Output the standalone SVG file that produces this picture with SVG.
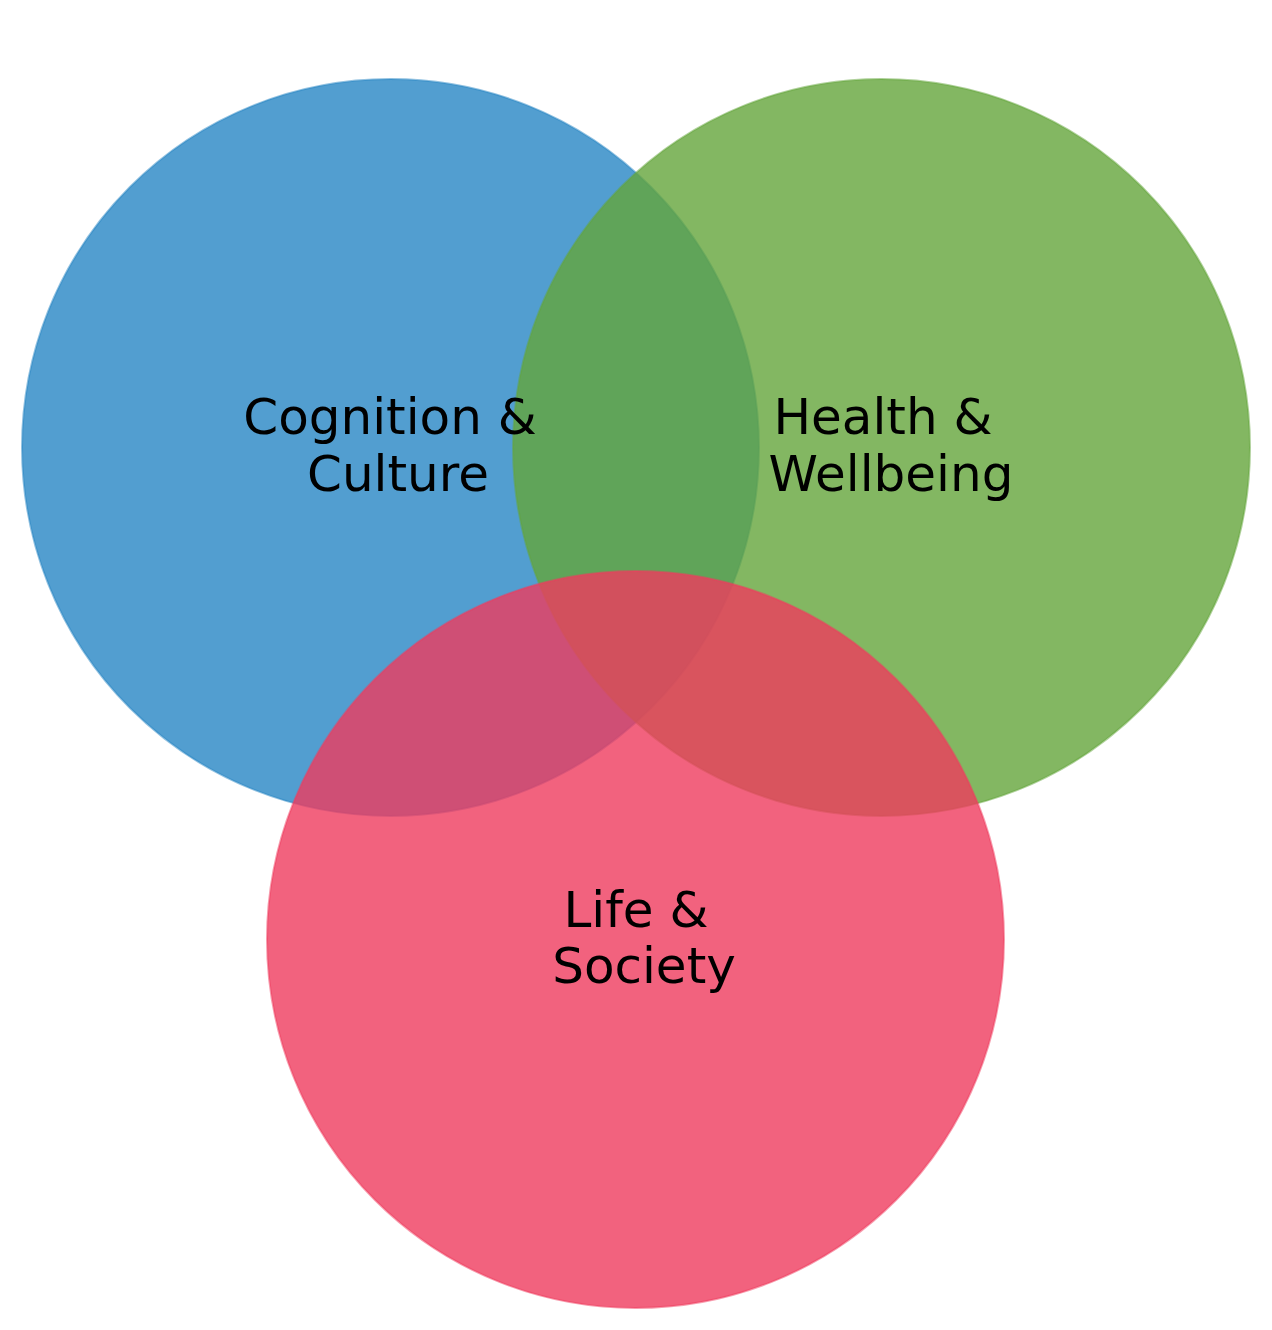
<svg xmlns="http://www.w3.org/2000/svg" width="1272" height="1330" viewBox="0 0 1272 1330">
<style>
.set{fill-opacity:0.8;stroke-opacity:0.5;stroke-width:2}
.lbl{font-family:"DejaVu Sans","Liberation Sans",sans-serif;font-size:50px;fill:#000;text-anchor:middle}
</style>
<rect width="1272" height="1330" fill="#ffffff"/>
<g id="cognition-culture">
<circle class="set" cx="390.5" cy="447.5" r="368.5" fill="#2786c4" stroke="#2786c4"/>
</g>
<g id="health-wellbeing">
<circle class="set" cx="881.5" cy="447.5" r="368.5" fill="#64a53b" stroke="#64a53b"/>
</g>
<g id="life-society">
<circle class="set" cx="635.5" cy="939.5" r="368.5" fill="#ef3b5e" stroke="#ef3b5e"/>
</g>
<g id="labels">
<text class="lbl" x="390" y="434">Cognition &amp;</text>
<text class="lbl" x="398" y="491">Culture</text>
<text class="lbl" x="883" y="434">Health &amp;</text>
<text class="lbl" x="891" y="491">Wellbeing</text>
<text class="lbl" x="636" y="927">Life &amp;</text>
<text class="lbl" x="644" y="983">Society</text>
</g>
<g id="connectors"></g>
</svg>
